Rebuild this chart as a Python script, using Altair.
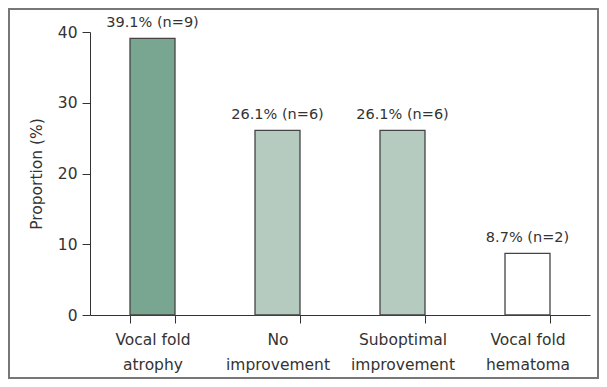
import altair as alt
import pandas as pd

categories = ["Vocal fold atrophy", "No improvement", "Suboptimal improvement", "Vocal fold hematoma"]
label_lines = ["Vocal fold|atrophy", "No|improvement", "Suboptimal|improvement", "Vocal fold|hematoma"]
values = [39.1, 26.1, 26.1, 8.7]
counts = [9, 6, 6, 2]
fills = ["#78a690", "#b5cbc0", "#b5cbc0", "#ffffff"]

df = pd.DataFrame({
    "cat": label_lines,
    "value": values,
    "n": counts,
    "fill": fills,
})
df["label"] = [f"{v}% (n={n})" for v, n in zip(values, counts)]

FONT = "DejaVu Sans"

x = alt.X("cat:N", sort=label_lines,
          scale=alt.Scale(paddingInner=0.64, paddingOuter=0.32),
          axis=alt.Axis(title=None, labelAngle=0, labelExpr="split(datum.label, '|')",
                        labelLineHeight=25, labelPadding=9, labelFontSize=15.5,
                        labelColor="#333333", labelFont=FONT, tickBand="extent",
                        tickSize=8, tickColor="#333333", domainColor="#333333",
                        labelBaseline="top"))
y = alt.Y("value:Q", scale=alt.Scale(domain=[0, 40]),
          axis=alt.Axis(title="Proportion (%)", values=[0, 10, 20, 30, 40],
                        grid=False, tickSize=8, tickColor="#333333",
                        domainColor="#333333", labelFontSize=15.5,
                        labelColor="#333333", labelFont=FONT, labelPadding=5,
                        titleFont=FONT, titleFontSize=15.5, titleFontWeight="normal",
                        titleColor="#333333", titlePadding=13))

bars = alt.Chart(df).mark_bar(stroke="#444444", strokeWidth=1.3).encode(
    x=x, y=y, fill=alt.Fill("fill:N", scale=None)
)
text = alt.Chart(df).mark_text(dy=-8, fontSize=14.5, font=FONT, color="#333333",
                                baseline="bottom").encode(
    x=alt.X("cat:N", sort=label_lines), y="value:Q", text="label:N"
)
border = alt.Chart(pd.DataFrame({"a": [0]})).mark_rect(
    fill=None, stroke="#777777", strokeWidth=2, clip=False
).encode(
    x=alt.value(-81), x2=alt.value(508), y=alt.value(-23), y2=alt.value(346)
)

chart = alt.layer(bars, text, border).properties(
    width=500, height=283,
    autosize=alt.AutoSizeParams(type="none"),
    padding={"left": 82, "top": 24, "right": 9, "bottom": 64},
).configure_view(stroke=None)

chart.save("out.html", embed_options={"renderer": "svg", "actions": False})
